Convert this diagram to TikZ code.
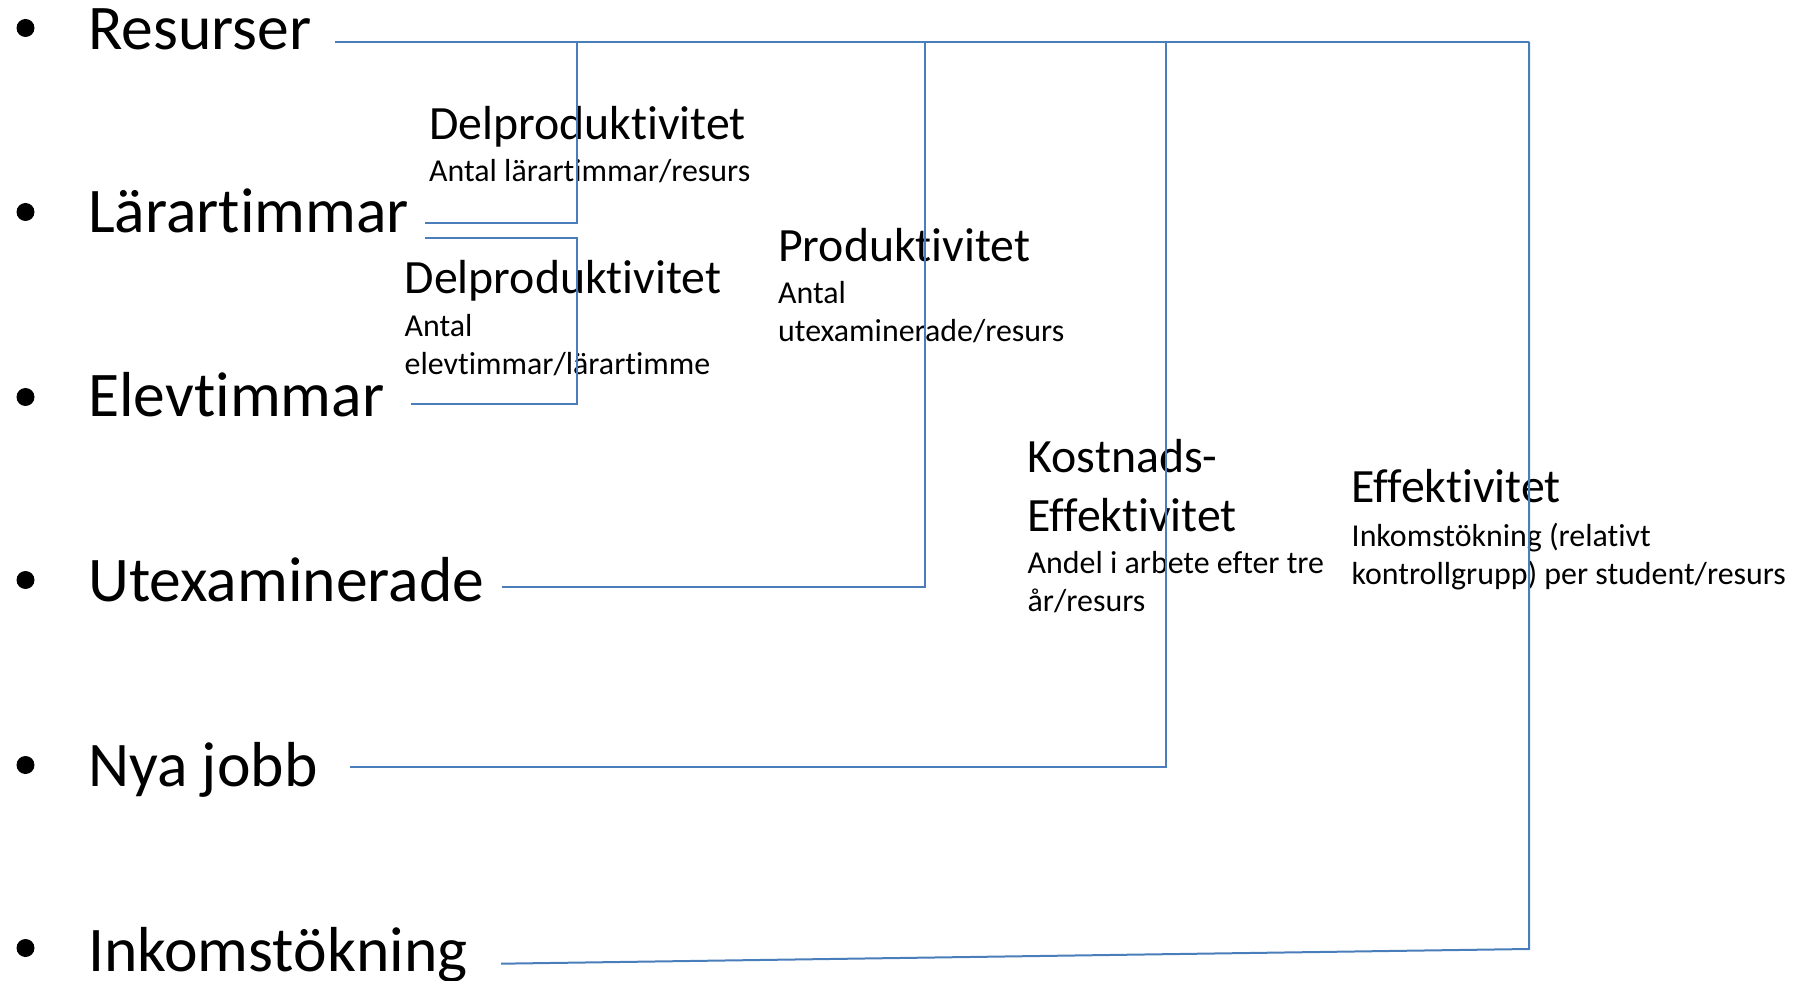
\documentclass[tikz,border=0pt]{standalone}
\usepackage{fontspec}
\setmainfont{Carlito}[RawFeature={-liga}]
\definecolor{linkblue}{RGB}{74,126,187}
\tikzset{
  big/.style={font=\fontsize{63.6}{76}\selectfont, anchor=base west, inner sep=0pt},
  mid/.style={font=\fontsize{47.8}{57}\selectfont, anchor=base west, inner sep=0pt},
  small/.style={font=\fontsize{31.9}{38}\selectfont, anchor=base west, inner sep=0pt},
  dot/.style={circle, fill=black, inner sep=0pt, minimum size=18pt},
  link/.style={draw=linkblue, line width=2pt},
}
\begin{document}
\begin{tikzpicture}[x=1pt,y=-1pt]
\useasboundingbox (0,0) rectangle (1800,981);
% bullets
\node[dot] (b1) at (25.5,28) {};
\node[dot] (b2) at (25.5,212) {};
\node[dot] (b3) at (25.5,397) {};
\node[dot] (b4) at (25.5,580) {};
\node[dot] (b5) at (25.5,765) {};
\node[dot] (b6) at (25.5,948) {};
% main items
\node[big] (res) at (88,50) {Resurser};
\node[big] (lar) at (88,233) {Lärartimmar};
\node[big] (elev) at (88,417) {Elevtimmar};
\node[big] (utex) at (88,601.7) {Utexaminerade};
\node[big] (nya) at (88,786.7) {Nya jobb};
\node[big] (ink) at (88,971.7) {Inkomstökning};
% measure labels
\node[mid] (dp1) at (429,139.3) {Delproduktivitet};
\node[small] (dp1a) at (429,181.7) {Antal lärartimmar/resurs};
\node[mid] (dp2) at (404.5,294) {Delproduktivitet};
\node[small] (dp2a) at (404.5,337) {Antal};
\node[small] (dp2b) at (404.5,375) {elevtimmar/lärartimme};
\node[mid] (prod) at (778,261.7) {Produktivitet};
\node[small] (proda) at (778,304) {Antal};
\node[small] (prodb) at (778,341.7) {utexaminerade/resurs};
\node[mid] (ke1) at (1027.5,473) {Kostnads-};
\node[mid] (ke2) at (1027.5,531.7) {Effektivitet};
\node[small] (kea) at (1027.5,573) {Andel i arbete efter tre};
\node[small] (keb) at (1027.5,611.7) {år/resurs};
\node[mid] (eff) at (1351.5,503) {Effektivitet};
\node[small] (effa) at (1351.5,546.7) {Inkomstökning (relativt};
\node[small] (effb) at (1351.5,584) {kontrollgrupp) per student/resurs};
% connector end points
\coordinate (resL) at (335,41.7);
\coordinate (resR) at (1529,41.7);
\coordinate (larU) at (425,222.7);
\coordinate (larD) at (425,238);
\coordinate (elevL) at (410.7,404.3);
\coordinate (utexL) at (502,586.7);
\coordinate (nyaL) at (350,767.3);
\coordinate (inkL) at (501,963.7);
\coordinate (inkR) at (1529,949);
% connectors
\draw[link] (resL) -- (resR);
\draw[link] (larU) -- (577,222.7) -- (577,41.7);
\draw[link] (larD) -- (577,238) -- (577,404.3) -- (elevL);
\draw[link] (utexL) -- (924.5,586.7) -- (924.5,41.7);
\draw[link] (nyaL) -- (1166,767.3) -- (1166,41.7);
\draw[link] (inkL) -- (inkR) -- (resR);
\end{tikzpicture}
\end{document}
